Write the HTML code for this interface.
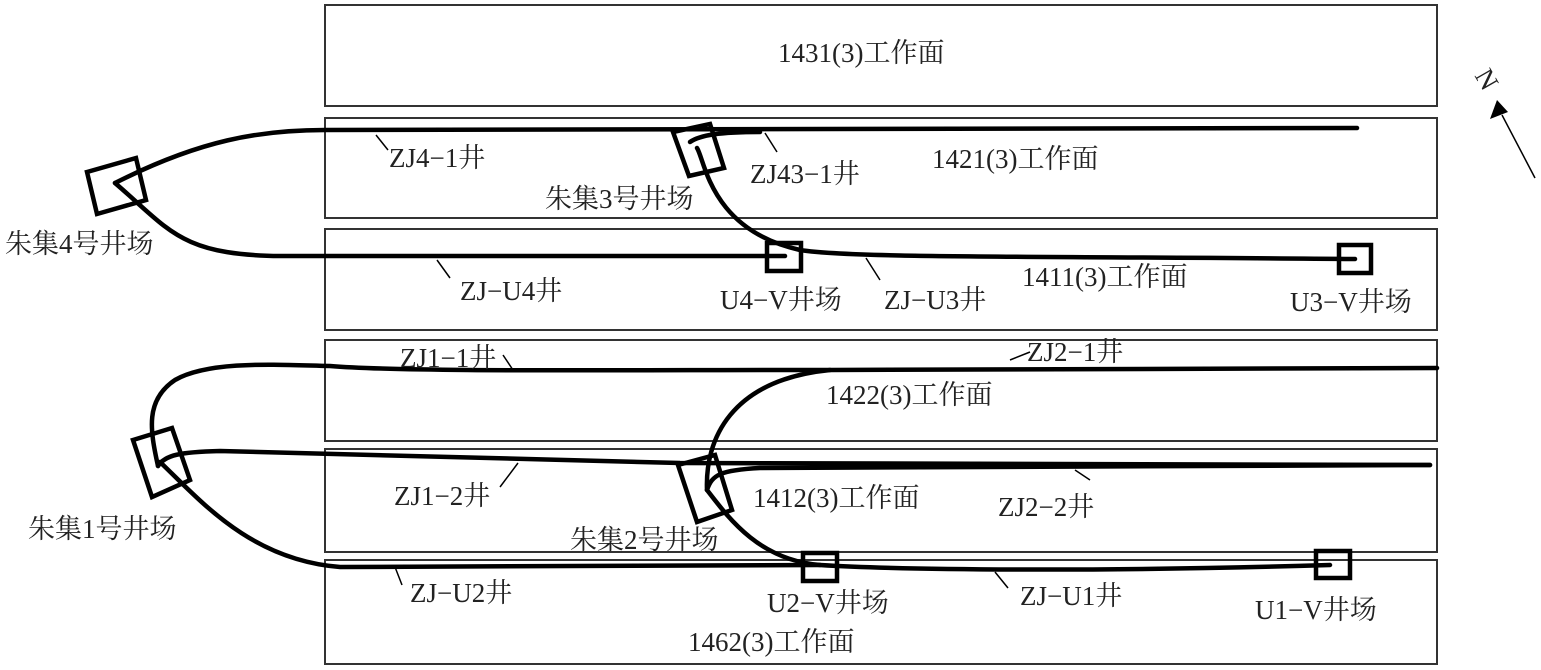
<!DOCTYPE html>
<html><head><meta charset="utf-8"><style>
html,body{margin:0;padding:0;background:#fff;}
svg{display:block}
text{font-family:"Liberation Serif","Noto Serif CJK SC",serif;font-size:27px;fill:#222}
</style></head><body>
<svg width="1541" height="670" viewBox="0 0 1541 670" xmlns="http://www.w3.org/2000/svg">
<g fill="none" stroke="#333" stroke-width="2">
<rect x="325" y="5" width="1112" height="101"/>
<rect x="325" y="118" width="1112" height="100"/>
<rect x="325" y="229" width="1112" height="101"/>
<rect x="325" y="340" width="1112" height="101"/>
<rect x="325" y="449" width="1112" height="103"/>
<rect x="325" y="560" width="1112" height="104"/>
</g>
<g fill="none" stroke="#000" stroke-width="4.5" stroke-linecap="round">
<path d="M115,183 C200,140 260,130 325,130 L1357,128"/>
<path d="M115,183 C170,230 180,255 280,256 L785,256"/>
<path d="M690,142 C700,135 720,132 760,132"/>
<path d="M697,148 C705,160 710,230 800,250 C850,258 1000,256 1355,259"/>
<path d="M158,466 C150,430 145,400 175,380 C210,360 280,365 330,366 C400,372 600,370 830,370 L1437,368"/>
<path d="M707,490 C705,440 730,380 830,370"/>
<path d="M158,466 C165,455 180,452 220,451 L680,463 L1430,465"/>
<path d="M707,490 C712,475 720,470 760,468 L1430,465"/>
<path d="M160,462 C200,500 250,560 340,567 L820,565"/>
<path d="M707,490 C730,520 760,560 820,565 C900,570 1100,572 1330,565"/>
<polygon points="87,172 136,158 146,200 97,214"/>
<polygon points="673,132 710,124 724,168 689,176"/>
<polygon points="133,440 172,428 190,480 152,497"/>
<polygon points="678,465 715,455 732,510 697,522"/>
<rect x="767" y="243" width="34" height="28"/>
<rect x="1339" y="245" width="32" height="28"/>
<rect x="803" y="553" width="34" height="28"/>
<rect x="1316" y="551" width="34" height="27"/>
</g>
<g stroke="#000" stroke-width="1.5">
<line x1="376" y1="135" x2="388" y2="150"/>
<line x1="765" y1="133" x2="777" y2="152"/>
<line x1="437" y1="260" x2="450" y2="278"/>
<line x1="866" y1="258" x2="880" y2="280"/>
<line x1="503" y1="355" x2="513" y2="370"/>
<line x1="1010" y1="360" x2="1030" y2="352"/>
<line x1="518" y1="463" x2="500" y2="487"/>
<line x1="1075" y1="470" x2="1090" y2="480"/>
<line x1="395" y1="567" x2="402" y2="585"/>
<line x1="995" y1="572" x2="1008" y2="588"/>
<line x1="1535" y1="178" x2="1502" y2="115"/>
</g>
<polygon points="1497,100 1490,119 1508,112" fill="#000"/>
<text x="1476" y="88" transform="rotate(60 1486 80)">N</text>
<text x="778" y="62">1431(3)工作面</text>
<text x="932" y="168">1421(3)工作面</text>
<text x="1022" y="286">1411(3)工作面</text>
<text x="826" y="404">1422(3)工作面</text>
<text x="753" y="507">1412(3)工作面</text>
<text x="688" y="651">1462(3)工作面</text>
<text x="389" y="167">ZJ4−1井</text>
<text x="750" y="183">ZJ43−1井</text>
<text x="545" y="208">朱集3号井场</text>
<text x="5" y="253">朱集4号井场</text>
<text x="460" y="300">ZJ−U4井</text>
<text x="720" y="309">U4−V井场</text>
<text x="884" y="309">ZJ−U3井</text>
<text x="1290" y="311">U3−V井场</text>
<text x="400" y="367">ZJ1−1井</text>
<text x="1027" y="361">ZJ2−1井</text>
<text x="394" y="505">ZJ1−2井</text>
<text x="28" y="538">朱集1号井场</text>
<text x="998" y="516">ZJ2−2井</text>
<text x="570" y="549">朱集2号井场</text>
<text x="410" y="602">ZJ−U2井</text>
<text x="767" y="612">U2−V井场</text>
<text x="1020" y="605">ZJ−U1井</text>
<text x="1255" y="619">U1−V井场</text>
</svg>
</body></html>
